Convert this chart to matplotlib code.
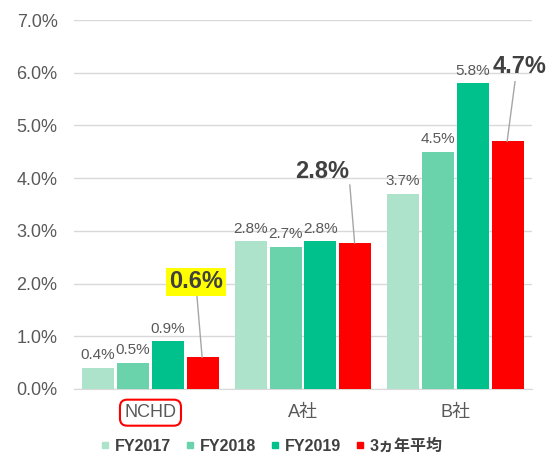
import matplotlib
matplotlib.use("Agg")
import matplotlib.pyplot as plt
from matplotlib.lines import Line2D
import numpy as np

plt.rcParams['font.family'] = ['Liberation Sans', 'Noto Sans CJK JP', 'DejaVu Sans']

companies = ['NCHD', 'A社', 'B社']
series = ['FY2017', 'FY2018', 'FY2019', '3ヵ年平均']
fy2017 = [0.4, 2.8, 3.7]
fy2018 = [0.5, 2.7, 4.5]
fy2019 = [0.9, 2.8, 5.8]
avg3 = [0.6, 2.77, 4.7]
avg_labels = ['0.6%', '2.8%', '4.7%']
colors = ['#ade3cb', '#6bd3ab', '#00c08b', '#ff0000']

fig = plt.figure(figsize=(5.58, 4.57), dpi=100)
ax = fig.add_axes([0.133, 0.149, 0.82, 0.807])

x = np.arange(len(companies))
step = 0.229
width = 0.21
grey = '#595959'

all_vals = [fy2017, fy2018, fy2019, avg3]
for j, vals in enumerate(all_vals):
    pos = x + (j - 1.5) * step
    ax.bar(pos, vals, width, color=colors[j], zorder=3)
    if j < 3:
        for px, v in zip(pos, vals):
            ax.annotate('%.1f%%' % v, (px, v), xytext=(0, 4), textcoords='offset points',
                        ha='center', va='bottom', fontsize=11, color=grey)

# average labels with leader lines
label_pos = [(0.299, 2.03), (1.124, 4.12), (2.42, 6.11)]
line_end = [(0.305, 1.75), (1.307, 3.87), (2.39, 5.83)]
avg_x = x + 1.5 * step
for i in range(len(companies)):
    ax.plot([avg_x[i] - 0.005, line_end[i][0]], [avg3[i], line_end[i][1]],
            color='#a6a6a6', lw=1, zorder=4)
    bbox = None
    if i == 0:
        bbox = dict(boxstyle='square,pad=0.12', facecolor='#ffff00', edgecolor='none')
    ax.text(label_pos[i][0], label_pos[i][1], avg_labels[i], ha='center', va='center',
            fontsize=17, fontweight='bold', color='#404040', bbox=bbox, zorder=5)

ax.set_xlim(-0.5, 2.5)
ax.set_ylim(0, 7)
ax.set_yticks(np.arange(0, 7.1, 1))
ax.set_yticklabels(['%.1f%%' % v for v in np.arange(0, 7.1, 1)])
ax.set_xticks(x)
ax.set_xticklabels(companies)
ax.tick_params(axis='y', length=0, pad=12, labelsize=13, labelcolor=grey)
ax.tick_params(axis='x', length=0, pad=11, labelsize=13, labelcolor=grey)
ax.get_xticklabels()[0].set_bbox(dict(boxstyle='round,pad=0.25,rounding_size=0.4',
                                      facecolor='none', edgecolor='#ff0000', lw=1.5))
ax.grid(axis='y', color='#d9d9d9', lw=1, zorder=0)
for s in ['top', 'right', 'left']:
    ax.spines[s].set_visible(False)
ax.spines['bottom'].set_color('#d9d9d9')

handles = [Line2D([], [], marker='s', linestyle='none', color=c, markersize=5) for c in colors]
leg = fig.legend(handles, series, loc='lower center', ncol=4, frameon=False,
                 bbox_to_anchor=(0.487, -0.025), handlelength=0.6, handletextpad=0.3,
                 columnspacing=0.9, prop={'size': 11.5, 'weight': 'bold'})
for t in leg.get_texts():
    t.set_color('#404040')

fig.savefig('out.png', dpi=100)
